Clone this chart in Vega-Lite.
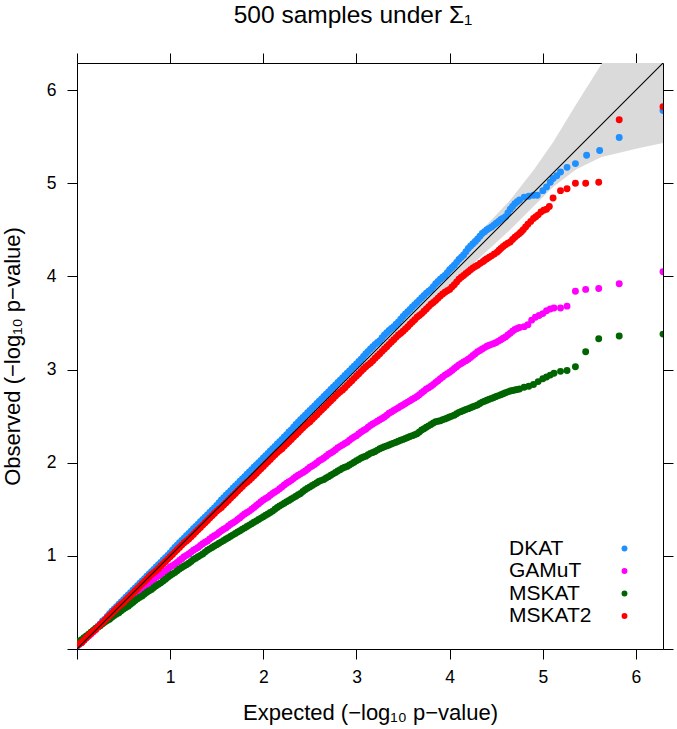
{
"$schema":"https://vega.github.io/schema/vega-lite/v6.json",
"width":586,"height":586,
"autosize":{"type":"none"},
"padding":{"left":77,"top":63,"right":14,"bottom":80},
"background":"white",
"title":{"text":"500 samples under Σ₁","font":"Liberation Sans","fontSize":24.5,"fontWeight":"normal","color":"black","anchor":"middle","dx":-17,"baseline":"alphabetic","offset":5},
"config":{
 "view":{"stroke":"black","strokeWidth":1},
 "axis":{"domain":false,"grid":false,"tickSize":10,"tickColor":"black","tickWidth":1,"labelFont":"Liberation Sans","labelFontSize":17.5,"labelColor":"black","titleFont":"Liberation Sans","titleFontSize":22,"titleFontWeight":"normal","titleColor":"black"},
 "legend":{"orient":"none","legendX":424,"legendY":475,"symbolOffset":113,"labelOffset":-126,"labelFont":"Liberation Sans","labelFontSize":21,"labelColor":"black","symbolSize":35,"symbolType":"circle","symbolOpacity":1,"rowPadding":0.5,"padding":0,"labelLimit":300}
},
"datasets":{
"band":[
{"x":0,"lo":-0.01,"hi":0.01},{"x":1,"lo":0.98,"hi":1.02},{"x":2,"lo":1.96,"hi":2.04},{"x":3,"lo":2.94,"hi":3.07},{"x":3.5,"lo":3.42,"hi":3.6},{"x":4,"lo":3.9,"hi":4.12},{"x":4.3,"lo":4.18,"hi":4.45},{"x":4.65,"lo":4.5,"hi":4.82},{"x":4.9,"lo":4.75,"hi":5.14},{"x":5.11,"lo":4.96,"hi":5.44},{"x":5.36,"lo":5.15,"hi":5.85},{"x":5.63,"lo":5.28,"hi":6.28},{"x":5.8,"lo":5.32,"hi":6.6},{"x":6.0,"lo":5.37,"hi":7.0},{"x":6.29,"lo":5.43,"hi":7.6}
],
"diag":[{"x":0,"y":0,"x2":6.29,"y2":6.29}],
"pts":[
{"s":"DKAT","x":0,"y":0.03},{"s":"DKAT","x":0.05,"y":0.07},{"s":"DKAT","x":0.1,"y":0.12},{"s":"DKAT","x":0.15,"y":0.17},{"s":"DKAT","x":0.2,"y":0.22},{"s":"DKAT","x":0.25,"y":0.27},{"s":"DKAT","x":0.3,"y":0.32},{"s":"DKAT","x":0.35,"y":0.38},{"s":"DKAT","x":0.4,"y":0.43},{"s":"DKAT","x":0.45,"y":0.48},{"s":"DKAT","x":0.5,"y":0.53},{"s":"DKAT","x":0.55,"y":0.58},{"s":"DKAT","x":0.6,"y":0.63},{"s":"DKAT","x":0.65,"y":0.68},{"s":"DKAT","x":0.7,"y":0.73},{"s":"DKAT","x":0.75,"y":0.78},{"s":"DKAT","x":0.8,"y":0.83},{"s":"DKAT","x":0.85,"y":0.88},{"s":"DKAT","x":0.9,"y":0.93},{"s":"DKAT","x":0.95,"y":0.98},{"s":"DKAT","x":1.0,"y":1.03},{"s":"DKAT","x":1.05,"y":1.09},{"s":"DKAT","x":1.1,"y":1.14},{"s":"DKAT","x":1.15,"y":1.19},{"s":"DKAT","x":1.2,"y":1.24},{"s":"DKAT","x":1.25,"y":1.29},{"s":"DKAT","x":1.3,"y":1.34},{"s":"DKAT","x":1.35,"y":1.39},{"s":"DKAT","x":1.4,"y":1.44},{"s":"DKAT","x":1.45,"y":1.49},{"s":"DKAT","x":1.5,"y":1.54},{"s":"DKAT","x":1.55,"y":1.6},{"s":"DKAT","x":1.6,"y":1.65},{"s":"DKAT","x":1.65,"y":1.7},{"s":"DKAT","x":1.7,"y":1.75},{"s":"DKAT","x":1.75,"y":1.8},{"s":"DKAT","x":1.8,"y":1.85},{"s":"DKAT","x":1.85,"y":1.9},{"s":"DKAT","x":1.9,"y":1.95},{"s":"DKAT","x":1.95,"y":2.0},{"s":"DKAT","x":2.0,"y":2.05},{"s":"DKAT","x":2.05,"y":2.1},{"s":"DKAT","x":2.1,"y":2.15},{"s":"DKAT","x":2.15,"y":2.2},{"s":"DKAT","x":2.2,"y":2.25},{"s":"DKAT","x":2.25,"y":2.3},{"s":"DKAT","x":2.3,"y":2.35},{"s":"DKAT","x":2.35,"y":2.41},{"s":"DKAT","x":2.4,"y":2.46},{"s":"DKAT","x":2.45,"y":2.51},{"s":"DKAT","x":2.5,"y":2.56},{"s":"DKAT","x":2.55,"y":2.61},{"s":"DKAT","x":2.6,"y":2.66},{"s":"DKAT","x":2.65,"y":2.71},{"s":"DKAT","x":2.7,"y":2.76},{"s":"DKAT","x":2.75,"y":2.81},{"s":"DKAT","x":2.8,"y":2.86},{"s":"DKAT","x":2.85,"y":2.91},{"s":"DKAT","x":2.9,"y":2.96},{"s":"DKAT","x":2.95,"y":3.01},{"s":"DKAT","x":3.0,"y":3.06},{"s":"DKAT","x":3.05,"y":3.11},{"s":"DKAT","x":3.1,"y":3.17},{"s":"DKAT","x":3.15,"y":3.22},{"s":"DKAT","x":3.2,"y":3.27},{"s":"DKAT","x":3.25,"y":3.31},{"s":"DKAT","x":3.3,"y":3.37},{"s":"DKAT","x":3.35,"y":3.42},{"s":"DKAT","x":3.4,"y":3.46},{"s":"DKAT","x":3.45,"y":3.51},{"s":"DKAT","x":3.5,"y":3.57},{"s":"DKAT","x":3.55,"y":3.62},{"s":"DKAT","x":3.6,"y":3.67},{"s":"DKAT","x":3.65,"y":3.72},{"s":"DKAT","x":3.7,"y":3.77},{"s":"DKAT","x":3.75,"y":3.82},{"s":"DKAT","x":3.8,"y":3.86},{"s":"DKAT","x":3.85,"y":3.92},{"s":"DKAT","x":3.9,"y":3.97},{"s":"DKAT","x":3.95,"y":4.01},{"s":"DKAT","x":4.0,"y":4.07},{"s":"DKAT","x":4.05,"y":4.12},{"s":"DKAT","x":4.1,"y":4.18},{"s":"DKAT","x":4.15,"y":4.23},{"s":"DKAT","x":4.2,"y":4.3},{"s":"DKAT","x":4.25,"y":4.35},{"s":"DKAT","x":4.3,"y":4.4},{"s":"DKAT","x":4.35,"y":4.46},{"s":"DKAT","x":4.4,"y":4.5},{"s":"DKAT","x":4.45,"y":4.53},{"s":"DKAT","x":4.5,"y":4.57},{"s":"DKAT","x":4.55,"y":4.61},{"s":"DKAT","x":4.6,"y":4.64},{"s":"DKAT","x":4.65,"y":4.72},{"s":"DKAT","x":4.7,"y":4.78},{"s":"DKAT","x":4.75,"y":4.82},{"s":"DKAT","x":4.8,"y":4.85},{"s":"DKAT","x":4.85,"y":4.86},{"s":"DKAT","x":4.9,"y":4.87},{"s":"DKAT","x":4.94,"y":4.87},{"s":"DKAT","x":5.0,"y":4.92},{"s":"DKAT","x":5.04,"y":4.96},{"s":"DKAT","x":5.08,"y":5.01},{"s":"DKAT","x":5.11,"y":5.05},{"s":"DKAT","x":5.15,"y":5.08},{"s":"DKAT","x":5.19,"y":5.12},{"s":"DKAT","x":5.26,"y":5.17},{"s":"DKAT","x":5.35,"y":5.21},{"s":"DKAT","x":5.47,"y":5.3},{"s":"DKAT","x":5.61,"y":5.35},{"s":"DKAT","x":5.82,"y":5.49},{"s":"DKAT","x":6.29,"y":5.78},
{"s":"DKAT","x":0.025,"y":0.05},{"s":"DKAT","x":0.075,"y":0.1},{"s":"DKAT","x":0.125,"y":0.145},{"s":"DKAT","x":0.175,"y":0.195},{"s":"DKAT","x":0.225,"y":0.245},{"s":"DKAT","x":0.275,"y":0.3},{"s":"DKAT","x":0.325,"y":0.35},{"s":"DKAT","x":0.375,"y":0.405},{"s":"DKAT","x":0.425,"y":0.455},{"s":"DKAT","x":0.475,"y":0.505},{"s":"DKAT","x":0.525,"y":0.555},{"s":"DKAT","x":0.575,"y":0.605},{"s":"DKAT","x":0.625,"y":0.655},{"s":"DKAT","x":0.675,"y":0.705},{"s":"DKAT","x":0.725,"y":0.755},{"s":"DKAT","x":0.775,"y":0.805},{"s":"DKAT","x":0.825,"y":0.855},{"s":"DKAT","x":0.875,"y":0.905},{"s":"DKAT","x":0.925,"y":0.955},{"s":"DKAT","x":0.975,"y":1.005},{"s":"DKAT","x":1.025,"y":1.06},{"s":"DKAT","x":1.075,"y":1.115},{"s":"DKAT","x":1.125,"y":1.165},{"s":"DKAT","x":1.175,"y":1.215},{"s":"DKAT","x":1.225,"y":1.265},{"s":"DKAT","x":1.275,"y":1.315},{"s":"DKAT","x":1.325,"y":1.365},{"s":"DKAT","x":1.375,"y":1.415},{"s":"DKAT","x":1.425,"y":1.465},{"s":"DKAT","x":1.475,"y":1.515},{"s":"DKAT","x":1.525,"y":1.57},{"s":"DKAT","x":1.575,"y":1.625},{"s":"DKAT","x":1.625,"y":1.675},{"s":"DKAT","x":1.675,"y":1.725},{"s":"DKAT","x":1.725,"y":1.775},{"s":"DKAT","x":1.775,"y":1.825},{"s":"DKAT","x":1.825,"y":1.875},{"s":"DKAT","x":1.875,"y":1.925},{"s":"DKAT","x":1.925,"y":1.975},{"s":"DKAT","x":1.975,"y":2.025},{"s":"DKAT","x":2.025,"y":2.075},{"s":"DKAT","x":2.075,"y":2.125},{"s":"DKAT","x":2.125,"y":2.175},{"s":"DKAT","x":2.175,"y":2.225},{"s":"DKAT","x":2.225,"y":2.275},{"s":"DKAT","x":2.275,"y":2.33},{"s":"DKAT","x":2.325,"y":2.38},{"s":"DKAT","x":2.375,"y":2.435},{"s":"DKAT","x":2.425,"y":2.485},{"s":"DKAT","x":2.475,"y":2.535},{"s":"DKAT","x":2.525,"y":2.585},{"s":"DKAT","x":2.575,"y":2.635},{"s":"DKAT","x":2.625,"y":2.685},{"s":"DKAT","x":2.675,"y":2.735},{"s":"DKAT","x":2.725,"y":2.785},{"s":"DKAT","x":2.775,"y":2.835},{"s":"DKAT","x":2.825,"y":2.885},{"s":"DKAT","x":2.875,"y":2.935},{"s":"DKAT","x":2.925,"y":2.985},{"s":"DKAT","x":2.975,"y":3.035},{"s":"DKAT","x":3.025,"y":3.085},{"s":"DKAT","x":3.075,"y":3.14},{"s":"DKAT","x":3.125,"y":3.195},{"s":"DKAT","x":3.175,"y":3.245},{"s":"DKAT","x":3.225,"y":3.29},{"s":"DKAT","x":3.275,"y":3.34},{"s":"DKAT","x":3.325,"y":3.395},{"s":"DKAT","x":3.375,"y":3.44},{"s":"DKAT","x":3.425,"y":3.485},{"s":"DKAT","x":3.475,"y":3.54},{"s":"DKAT","x":3.525,"y":3.595},{"s":"DKAT","x":3.575,"y":3.645},{"s":"DKAT","x":3.625,"y":3.695},{"s":"DKAT","x":3.675,"y":3.745},{"s":"DKAT","x":3.725,"y":3.795},{"s":"DKAT","x":3.775,"y":3.84},{"s":"DKAT","x":3.825,"y":3.89},{"s":"DKAT","x":3.875,"y":3.945},{"s":"DKAT","x":3.925,"y":3.99},{"s":"DKAT","x":3.975,"y":4.04},{"s":"DKAT","x":4.025,"y":4.095},{"s":"DKAT","x":4.075,"y":4.15},{"s":"DKAT","x":4.125,"y":4.205},{"s":"DKAT","x":4.175,"y":4.265},{"s":"DKAT","x":4.225,"y":4.325},{"s":"DKAT","x":4.275,"y":4.375},{"s":"DKAT","x":4.325,"y":4.43},{"s":"DKAT","x":4.375,"y":4.48},{"s":"DKAT","x":4.425,"y":4.515},{"s":"DKAT","x":4.475,"y":4.55},{"s":"DKAT","x":4.525,"y":4.59},{"s":"DKAT","x":4.575,"y":4.625},{"s":"DKAT","x":4.625,"y":4.68},{"s":"DKAT","x":4.675,"y":4.75},{"s":"DKAT","x":4.725,"y":4.8},
{"s":"GAMuT","x":0,"y":0.04},{"s":"GAMuT","x":0.05,"y":0.07},{"s":"GAMuT","x":0.1,"y":0.12},{"s":"GAMuT","x":0.15,"y":0.16},{"s":"GAMuT","x":0.2,"y":0.21},{"s":"GAMuT","x":0.25,"y":0.26},{"s":"GAMuT","x":0.3,"y":0.3},{"s":"GAMuT","x":0.35,"y":0.35},{"s":"GAMuT","x":0.4,"y":0.39},{"s":"GAMuT","x":0.45,"y":0.44},{"s":"GAMuT","x":0.5,"y":0.48},{"s":"GAMuT","x":0.55,"y":0.52},{"s":"GAMuT","x":0.6,"y":0.57},{"s":"GAMuT","x":0.65,"y":0.61},{"s":"GAMuT","x":0.7,"y":0.65},{"s":"GAMuT","x":0.75,"y":0.69},{"s":"GAMuT","x":0.8,"y":0.73},{"s":"GAMuT","x":0.85,"y":0.77},{"s":"GAMuT","x":0.9,"y":0.8},{"s":"GAMuT","x":0.95,"y":0.84},{"s":"GAMuT","x":1.0,"y":0.88},{"s":"GAMuT","x":1.05,"y":0.91},{"s":"GAMuT","x":1.1,"y":0.95},{"s":"GAMuT","x":1.15,"y":0.99},{"s":"GAMuT","x":1.2,"y":1.02},{"s":"GAMuT","x":1.25,"y":1.06},{"s":"GAMuT","x":1.3,"y":1.09},{"s":"GAMuT","x":1.35,"y":1.13},{"s":"GAMuT","x":1.4,"y":1.16},{"s":"GAMuT","x":1.45,"y":1.2},{"s":"GAMuT","x":1.5,"y":1.23},{"s":"GAMuT","x":1.55,"y":1.27},{"s":"GAMuT","x":1.6,"y":1.3},{"s":"GAMuT","x":1.65,"y":1.34},{"s":"GAMuT","x":1.7,"y":1.37},{"s":"GAMuT","x":1.75,"y":1.41},{"s":"GAMuT","x":1.8,"y":1.45},{"s":"GAMuT","x":1.85,"y":1.48},{"s":"GAMuT","x":1.9,"y":1.52},{"s":"GAMuT","x":1.95,"y":1.56},{"s":"GAMuT","x":2.0,"y":1.6},{"s":"GAMuT","x":2.05,"y":1.63},{"s":"GAMuT","x":2.1,"y":1.67},{"s":"GAMuT","x":2.15,"y":1.7},{"s":"GAMuT","x":2.2,"y":1.74},{"s":"GAMuT","x":2.25,"y":1.78},{"s":"GAMuT","x":2.3,"y":1.81},{"s":"GAMuT","x":2.35,"y":1.85},{"s":"GAMuT","x":2.4,"y":1.88},{"s":"GAMuT","x":2.45,"y":1.91},{"s":"GAMuT","x":2.5,"y":1.95},{"s":"GAMuT","x":2.55,"y":1.98},{"s":"GAMuT","x":2.6,"y":2.02},{"s":"GAMuT","x":2.65,"y":2.05},{"s":"GAMuT","x":2.7,"y":2.09},{"s":"GAMuT","x":2.75,"y":2.12},{"s":"GAMuT","x":2.8,"y":2.16},{"s":"GAMuT","x":2.85,"y":2.19},{"s":"GAMuT","x":2.9,"y":2.22},{"s":"GAMuT","x":2.95,"y":2.26},{"s":"GAMuT","x":3.0,"y":2.29},{"s":"GAMuT","x":3.05,"y":2.33},{"s":"GAMuT","x":3.1,"y":2.36},{"s":"GAMuT","x":3.15,"y":2.4},{"s":"GAMuT","x":3.2,"y":2.43},{"s":"GAMuT","x":3.25,"y":2.46},{"s":"GAMuT","x":3.3,"y":2.49},{"s":"GAMuT","x":3.35,"y":2.53},{"s":"GAMuT","x":3.4,"y":2.56},{"s":"GAMuT","x":3.45,"y":2.59},{"s":"GAMuT","x":3.5,"y":2.62},{"s":"GAMuT","x":3.55,"y":2.65},{"s":"GAMuT","x":3.6,"y":2.68},{"s":"GAMuT","x":3.65,"y":2.71},{"s":"GAMuT","x":3.7,"y":2.75},{"s":"GAMuT","x":3.75,"y":2.79},{"s":"GAMuT","x":3.8,"y":2.82},{"s":"GAMuT","x":3.85,"y":2.86},{"s":"GAMuT","x":3.9,"y":2.9},{"s":"GAMuT","x":3.95,"y":2.94},{"s":"GAMuT","x":4.0,"y":2.97},{"s":"GAMuT","x":4.05,"y":3.01},{"s":"GAMuT","x":4.1,"y":3.05},{"s":"GAMuT","x":4.15,"y":3.08},{"s":"GAMuT","x":4.2,"y":3.11},{"s":"GAMuT","x":4.25,"y":3.15},{"s":"GAMuT","x":4.3,"y":3.19},{"s":"GAMuT","x":4.35,"y":3.22},{"s":"GAMuT","x":4.4,"y":3.25},{"s":"GAMuT","x":4.45,"y":3.27},{"s":"GAMuT","x":4.5,"y":3.29},{"s":"GAMuT","x":4.55,"y":3.32},{"s":"GAMuT","x":4.6,"y":3.35},{"s":"GAMuT","x":4.65,"y":3.39},{"s":"GAMuT","x":4.7,"y":3.43},{"s":"GAMuT","x":4.75,"y":3.45},{"s":"GAMuT","x":4.8,"y":3.46},{"s":"GAMuT","x":4.84,"y":3.48},{"s":"GAMuT","x":4.88,"y":3.53},{"s":"GAMuT","x":4.92,"y":3.56},{"s":"GAMuT","x":4.96,"y":3.58},{"s":"GAMuT","x":5.0,"y":3.6},{"s":"GAMuT","x":5.04,"y":3.63},{"s":"GAMuT","x":5.08,"y":3.65},{"s":"GAMuT","x":5.12,"y":3.66},{"s":"GAMuT","x":5.19,"y":3.66},{"s":"GAMuT","x":5.26,"y":3.68},{"s":"GAMuT","x":5.35,"y":3.84},{"s":"GAMuT","x":5.46,"y":3.86},{"s":"GAMuT","x":5.6,"y":3.87},{"s":"GAMuT","x":5.82,"y":3.92},{"s":"GAMuT","x":6.29,"y":4.05},
{"s":"GAMuT","x":0.025,"y":0.055},{"s":"GAMuT","x":0.075,"y":0.095},{"s":"GAMuT","x":0.125,"y":0.14},{"s":"GAMuT","x":0.175,"y":0.185},{"s":"GAMuT","x":0.225,"y":0.235},{"s":"GAMuT","x":0.275,"y":0.28},{"s":"GAMuT","x":0.325,"y":0.325},{"s":"GAMuT","x":0.375,"y":0.37},{"s":"GAMuT","x":0.425,"y":0.415},{"s":"GAMuT","x":0.475,"y":0.46},{"s":"GAMuT","x":0.525,"y":0.5},{"s":"GAMuT","x":0.575,"y":0.545},{"s":"GAMuT","x":0.625,"y":0.59},{"s":"GAMuT","x":0.675,"y":0.63},{"s":"GAMuT","x":0.725,"y":0.67},{"s":"GAMuT","x":0.775,"y":0.71},{"s":"GAMuT","x":0.825,"y":0.75},{"s":"GAMuT","x":0.875,"y":0.785},{"s":"GAMuT","x":0.925,"y":0.82},{"s":"GAMuT","x":0.975,"y":0.86},{"s":"GAMuT","x":1.025,"y":0.895},{"s":"GAMuT","x":1.075,"y":0.93},{"s":"GAMuT","x":1.125,"y":0.97},{"s":"GAMuT","x":1.175,"y":1.005},{"s":"GAMuT","x":1.225,"y":1.04},{"s":"GAMuT","x":1.275,"y":1.075},{"s":"GAMuT","x":1.325,"y":1.11},{"s":"GAMuT","x":1.375,"y":1.145},{"s":"GAMuT","x":1.425,"y":1.18},{"s":"GAMuT","x":1.475,"y":1.215},{"s":"GAMuT","x":1.525,"y":1.25},{"s":"GAMuT","x":1.575,"y":1.285},{"s":"GAMuT","x":1.625,"y":1.32},{"s":"GAMuT","x":1.675,"y":1.355},{"s":"GAMuT","x":1.725,"y":1.39},{"s":"GAMuT","x":1.775,"y":1.43},{"s":"GAMuT","x":1.825,"y":1.465},{"s":"GAMuT","x":1.875,"y":1.5},{"s":"GAMuT","x":1.925,"y":1.54},{"s":"GAMuT","x":1.975,"y":1.58},{"s":"GAMuT","x":2.025,"y":1.615},{"s":"GAMuT","x":2.075,"y":1.65},{"s":"GAMuT","x":2.125,"y":1.685},{"s":"GAMuT","x":2.175,"y":1.72},{"s":"GAMuT","x":2.225,"y":1.76},{"s":"GAMuT","x":2.275,"y":1.795},{"s":"GAMuT","x":2.325,"y":1.83},{"s":"GAMuT","x":2.375,"y":1.865},{"s":"GAMuT","x":2.425,"y":1.895},{"s":"GAMuT","x":2.475,"y":1.93},{"s":"GAMuT","x":2.525,"y":1.965},{"s":"GAMuT","x":2.575,"y":2.0},{"s":"GAMuT","x":2.625,"y":2.035},{"s":"GAMuT","x":2.675,"y":2.07},{"s":"GAMuT","x":2.725,"y":2.105},{"s":"GAMuT","x":2.775,"y":2.14},{"s":"GAMuT","x":2.825,"y":2.175},{"s":"GAMuT","x":2.875,"y":2.205},{"s":"GAMuT","x":2.925,"y":2.24},{"s":"GAMuT","x":2.975,"y":2.275},{"s":"GAMuT","x":3.025,"y":2.31},{"s":"GAMuT","x":3.075,"y":2.345},{"s":"GAMuT","x":3.125,"y":2.38},{"s":"GAMuT","x":3.175,"y":2.415},{"s":"GAMuT","x":3.225,"y":2.445},{"s":"GAMuT","x":3.275,"y":2.475},{"s":"GAMuT","x":3.325,"y":2.51},{"s":"GAMuT","x":3.375,"y":2.545},{"s":"GAMuT","x":3.425,"y":2.575},{"s":"GAMuT","x":3.475,"y":2.605},{"s":"GAMuT","x":3.525,"y":2.635},{"s":"GAMuT","x":3.575,"y":2.665},{"s":"GAMuT","x":3.625,"y":2.695},{"s":"GAMuT","x":3.675,"y":2.73},{"s":"GAMuT","x":3.725,"y":2.77},{"s":"GAMuT","x":3.775,"y":2.805},{"s":"GAMuT","x":3.825,"y":2.84},{"s":"GAMuT","x":3.875,"y":2.88},{"s":"GAMuT","x":3.925,"y":2.92},{"s":"GAMuT","x":3.975,"y":2.955},{"s":"GAMuT","x":4.025,"y":2.99},{"s":"GAMuT","x":4.075,"y":3.03},{"s":"GAMuT","x":4.125,"y":3.065},{"s":"GAMuT","x":4.175,"y":3.095},{"s":"GAMuT","x":4.225,"y":3.13},{"s":"GAMuT","x":4.275,"y":3.17},{"s":"GAMuT","x":4.325,"y":3.205},{"s":"GAMuT","x":4.375,"y":3.235},{"s":"GAMuT","x":4.425,"y":3.26},{"s":"GAMuT","x":4.475,"y":3.28},{"s":"GAMuT","x":4.525,"y":3.305},{"s":"GAMuT","x":4.575,"y":3.335},{"s":"GAMuT","x":4.625,"y":3.37},{"s":"GAMuT","x":4.675,"y":3.41},{"s":"GAMuT","x":4.725,"y":3.44},
{"s":"MSKAT","x":0,"y":0.07},{"s":"MSKAT","x":0.05,"y":0.1},{"s":"MSKAT","x":0.1,"y":0.14},{"s":"MSKAT","x":0.15,"y":0.18},{"s":"MSKAT","x":0.2,"y":0.22},{"s":"MSKAT","x":0.25,"y":0.25},{"s":"MSKAT","x":0.3,"y":0.29},{"s":"MSKAT","x":0.35,"y":0.32},{"s":"MSKAT","x":0.4,"y":0.36},{"s":"MSKAT","x":0.45,"y":0.39},{"s":"MSKAT","x":0.5,"y":0.43},{"s":"MSKAT","x":0.55,"y":0.46},{"s":"MSKAT","x":0.6,"y":0.5},{"s":"MSKAT","x":0.65,"y":0.54},{"s":"MSKAT","x":0.7,"y":0.57},{"s":"MSKAT","x":0.75,"y":0.61},{"s":"MSKAT","x":0.8,"y":0.64},{"s":"MSKAT","x":0.85,"y":0.68},{"s":"MSKAT","x":0.9,"y":0.71},{"s":"MSKAT","x":0.95,"y":0.75},{"s":"MSKAT","x":1.0,"y":0.79},{"s":"MSKAT","x":1.05,"y":0.82},{"s":"MSKAT","x":1.1,"y":0.86},{"s":"MSKAT","x":1.15,"y":0.89},{"s":"MSKAT","x":1.2,"y":0.92},{"s":"MSKAT","x":1.25,"y":0.96},{"s":"MSKAT","x":1.3,"y":0.99},{"s":"MSKAT","x":1.35,"y":1.02},{"s":"MSKAT","x":1.4,"y":1.06},{"s":"MSKAT","x":1.45,"y":1.09},{"s":"MSKAT","x":1.5,"y":1.12},{"s":"MSKAT","x":1.55,"y":1.15},{"s":"MSKAT","x":1.6,"y":1.18},{"s":"MSKAT","x":1.65,"y":1.21},{"s":"MSKAT","x":1.7,"y":1.24},{"s":"MSKAT","x":1.75,"y":1.27},{"s":"MSKAT","x":1.8,"y":1.3},{"s":"MSKAT","x":1.85,"y":1.33},{"s":"MSKAT","x":1.9,"y":1.36},{"s":"MSKAT","x":1.95,"y":1.39},{"s":"MSKAT","x":2.0,"y":1.42},{"s":"MSKAT","x":2.05,"y":1.45},{"s":"MSKAT","x":2.1,"y":1.48},{"s":"MSKAT","x":2.15,"y":1.52},{"s":"MSKAT","x":2.2,"y":1.55},{"s":"MSKAT","x":2.25,"y":1.58},{"s":"MSKAT","x":2.3,"y":1.61},{"s":"MSKAT","x":2.35,"y":1.64},{"s":"MSKAT","x":2.4,"y":1.67},{"s":"MSKAT","x":2.45,"y":1.71},{"s":"MSKAT","x":2.5,"y":1.74},{"s":"MSKAT","x":2.55,"y":1.77},{"s":"MSKAT","x":2.6,"y":1.8},{"s":"MSKAT","x":2.65,"y":1.82},{"s":"MSKAT","x":2.7,"y":1.85},{"s":"MSKAT","x":2.75,"y":1.88},{"s":"MSKAT","x":2.8,"y":1.91},{"s":"MSKAT","x":2.85,"y":1.94},{"s":"MSKAT","x":2.9,"y":1.96},{"s":"MSKAT","x":2.95,"y":1.99},{"s":"MSKAT","x":3.0,"y":2.02},{"s":"MSKAT","x":3.05,"y":2.05},{"s":"MSKAT","x":3.1,"y":2.07},{"s":"MSKAT","x":3.15,"y":2.1},{"s":"MSKAT","x":3.2,"y":2.12},{"s":"MSKAT","x":3.25,"y":2.15},{"s":"MSKAT","x":3.3,"y":2.17},{"s":"MSKAT","x":3.35,"y":2.19},{"s":"MSKAT","x":3.4,"y":2.21},{"s":"MSKAT","x":3.45,"y":2.23},{"s":"MSKAT","x":3.5,"y":2.25},{"s":"MSKAT","x":3.55,"y":2.27},{"s":"MSKAT","x":3.6,"y":2.29},{"s":"MSKAT","x":3.65,"y":2.31},{"s":"MSKAT","x":3.7,"y":2.35},{"s":"MSKAT","x":3.75,"y":2.38},{"s":"MSKAT","x":3.8,"y":2.41},{"s":"MSKAT","x":3.85,"y":2.44},{"s":"MSKAT","x":3.9,"y":2.45},{"s":"MSKAT","x":3.95,"y":2.47},{"s":"MSKAT","x":4.0,"y":2.49},{"s":"MSKAT","x":4.05,"y":2.51},{"s":"MSKAT","x":4.1,"y":2.54},{"s":"MSKAT","x":4.15,"y":2.56},{"s":"MSKAT","x":4.2,"y":2.58},{"s":"MSKAT","x":4.25,"y":2.6},{"s":"MSKAT","x":4.3,"y":2.62},{"s":"MSKAT","x":4.35,"y":2.65},{"s":"MSKAT","x":4.4,"y":2.67},{"s":"MSKAT","x":4.45,"y":2.69},{"s":"MSKAT","x":4.5,"y":2.71},{"s":"MSKAT","x":4.55,"y":2.73},{"s":"MSKAT","x":4.6,"y":2.75},{"s":"MSKAT","x":4.65,"y":2.77},{"s":"MSKAT","x":4.7,"y":2.78},{"s":"MSKAT","x":4.75,"y":2.79},{"s":"MSKAT","x":4.8,"y":2.81},{"s":"MSKAT","x":4.85,"y":2.82},{"s":"MSKAT","x":4.9,"y":2.84},{"s":"MSKAT","x":4.95,"y":2.87},{"s":"MSKAT","x":5.0,"y":2.9},{"s":"MSKAT","x":5.04,"y":2.92},{"s":"MSKAT","x":5.08,"y":2.94},{"s":"MSKAT","x":5.12,"y":2.96},{"s":"MSKAT","x":5.19,"y":2.98},{"s":"MSKAT","x":5.26,"y":2.99},{"s":"MSKAT","x":5.35,"y":3.03},{"s":"MSKAT","x":5.46,"y":3.19},{"s":"MSKAT","x":5.6,"y":3.33},{"s":"MSKAT","x":5.82,"y":3.36},{"s":"MSKAT","x":6.29,"y":3.38},
{"s":"MSKAT","x":0.025,"y":0.085},{"s":"MSKAT","x":0.075,"y":0.12},{"s":"MSKAT","x":0.125,"y":0.16},{"s":"MSKAT","x":0.175,"y":0.2},{"s":"MSKAT","x":0.225,"y":0.235},{"s":"MSKAT","x":0.275,"y":0.27},{"s":"MSKAT","x":0.325,"y":0.305},{"s":"MSKAT","x":0.375,"y":0.34},{"s":"MSKAT","x":0.425,"y":0.375},{"s":"MSKAT","x":0.475,"y":0.41},{"s":"MSKAT","x":0.525,"y":0.445},{"s":"MSKAT","x":0.575,"y":0.48},{"s":"MSKAT","x":0.625,"y":0.52},{"s":"MSKAT","x":0.675,"y":0.555},{"s":"MSKAT","x":0.725,"y":0.59},{"s":"MSKAT","x":0.775,"y":0.625},{"s":"MSKAT","x":0.825,"y":0.66},{"s":"MSKAT","x":0.875,"y":0.695},{"s":"MSKAT","x":0.925,"y":0.73},{"s":"MSKAT","x":0.975,"y":0.77},{"s":"MSKAT","x":1.025,"y":0.805},{"s":"MSKAT","x":1.075,"y":0.84},{"s":"MSKAT","x":1.125,"y":0.875},{"s":"MSKAT","x":1.175,"y":0.905},{"s":"MSKAT","x":1.225,"y":0.94},{"s":"MSKAT","x":1.275,"y":0.975},{"s":"MSKAT","x":1.325,"y":1.005},{"s":"MSKAT","x":1.375,"y":1.04},{"s":"MSKAT","x":1.425,"y":1.075},{"s":"MSKAT","x":1.475,"y":1.105},{"s":"MSKAT","x":1.525,"y":1.135},{"s":"MSKAT","x":1.575,"y":1.165},{"s":"MSKAT","x":1.625,"y":1.195},{"s":"MSKAT","x":1.675,"y":1.225},{"s":"MSKAT","x":1.725,"y":1.255},{"s":"MSKAT","x":1.775,"y":1.285},{"s":"MSKAT","x":1.825,"y":1.315},{"s":"MSKAT","x":1.875,"y":1.345},{"s":"MSKAT","x":1.925,"y":1.375},{"s":"MSKAT","x":1.975,"y":1.405},{"s":"MSKAT","x":2.025,"y":1.435},{"s":"MSKAT","x":2.075,"y":1.465},{"s":"MSKAT","x":2.125,"y":1.5},{"s":"MSKAT","x":2.175,"y":1.535},{"s":"MSKAT","x":2.225,"y":1.565},{"s":"MSKAT","x":2.275,"y":1.595},{"s":"MSKAT","x":2.325,"y":1.625},{"s":"MSKAT","x":2.375,"y":1.655},{"s":"MSKAT","x":2.425,"y":1.69},{"s":"MSKAT","x":2.475,"y":1.725},{"s":"MSKAT","x":2.525,"y":1.755},{"s":"MSKAT","x":2.575,"y":1.785},{"s":"MSKAT","x":2.625,"y":1.81},{"s":"MSKAT","x":2.675,"y":1.835},{"s":"MSKAT","x":2.725,"y":1.865},{"s":"MSKAT","x":2.775,"y":1.895},{"s":"MSKAT","x":2.825,"y":1.925},{"s":"MSKAT","x":2.875,"y":1.95},{"s":"MSKAT","x":2.925,"y":1.975},{"s":"MSKAT","x":2.975,"y":2.005},{"s":"MSKAT","x":3.025,"y":2.035},{"s":"MSKAT","x":3.075,"y":2.06},{"s":"MSKAT","x":3.125,"y":2.085},{"s":"MSKAT","x":3.175,"y":2.11},{"s":"MSKAT","x":3.225,"y":2.135},{"s":"MSKAT","x":3.275,"y":2.16},{"s":"MSKAT","x":3.325,"y":2.18},{"s":"MSKAT","x":3.375,"y":2.2},{"s":"MSKAT","x":3.425,"y":2.22},{"s":"MSKAT","x":3.475,"y":2.24},{"s":"MSKAT","x":3.525,"y":2.26},{"s":"MSKAT","x":3.575,"y":2.28},{"s":"MSKAT","x":3.625,"y":2.3},{"s":"MSKAT","x":3.675,"y":2.33},{"s":"MSKAT","x":3.725,"y":2.365},{"s":"MSKAT","x":3.775,"y":2.395},{"s":"MSKAT","x":3.825,"y":2.425},{"s":"MSKAT","x":3.875,"y":2.445},{"s":"MSKAT","x":3.925,"y":2.46},{"s":"MSKAT","x":3.975,"y":2.48},{"s":"MSKAT","x":4.025,"y":2.5},{"s":"MSKAT","x":4.075,"y":2.525},{"s":"MSKAT","x":4.125,"y":2.55},{"s":"MSKAT","x":4.175,"y":2.57},{"s":"MSKAT","x":4.225,"y":2.59},{"s":"MSKAT","x":4.275,"y":2.61},{"s":"MSKAT","x":4.325,"y":2.635},{"s":"MSKAT","x":4.375,"y":2.66},{"s":"MSKAT","x":4.425,"y":2.68},{"s":"MSKAT","x":4.475,"y":2.7},{"s":"MSKAT","x":4.525,"y":2.72},{"s":"MSKAT","x":4.575,"y":2.74},{"s":"MSKAT","x":4.625,"y":2.76},{"s":"MSKAT","x":4.675,"y":2.775},{"s":"MSKAT","x":4.725,"y":2.785},
{"s":"MSKAT2","x":0,"y":0.04},{"s":"MSKAT2","x":0.05,"y":0.07},{"s":"MSKAT2","x":0.1,"y":0.12},{"s":"MSKAT2","x":0.15,"y":0.17},{"s":"MSKAT2","x":0.2,"y":0.21},{"s":"MSKAT2","x":0.25,"y":0.26},{"s":"MSKAT2","x":0.3,"y":0.31},{"s":"MSKAT2","x":0.35,"y":0.36},{"s":"MSKAT2","x":0.4,"y":0.41},{"s":"MSKAT2","x":0.45,"y":0.46},{"s":"MSKAT2","x":0.5,"y":0.5},{"s":"MSKAT2","x":0.55,"y":0.55},{"s":"MSKAT2","x":0.6,"y":0.6},{"s":"MSKAT2","x":0.65,"y":0.65},{"s":"MSKAT2","x":0.7,"y":0.7},{"s":"MSKAT2","x":0.75,"y":0.75},{"s":"MSKAT2","x":0.8,"y":0.8},{"s":"MSKAT2","x":0.85,"y":0.84},{"s":"MSKAT2","x":0.9,"y":0.89},{"s":"MSKAT2","x":0.95,"y":0.94},{"s":"MSKAT2","x":1.0,"y":0.99},{"s":"MSKAT2","x":1.05,"y":1.04},{"s":"MSKAT2","x":1.1,"y":1.09},{"s":"MSKAT2","x":1.15,"y":1.14},{"s":"MSKAT2","x":1.2,"y":1.18},{"s":"MSKAT2","x":1.25,"y":1.23},{"s":"MSKAT2","x":1.3,"y":1.28},{"s":"MSKAT2","x":1.35,"y":1.33},{"s":"MSKAT2","x":1.4,"y":1.38},{"s":"MSKAT2","x":1.45,"y":1.43},{"s":"MSKAT2","x":1.5,"y":1.48},{"s":"MSKAT2","x":1.55,"y":1.52},{"s":"MSKAT2","x":1.6,"y":1.57},{"s":"MSKAT2","x":1.65,"y":1.62},{"s":"MSKAT2","x":1.7,"y":1.67},{"s":"MSKAT2","x":1.75,"y":1.72},{"s":"MSKAT2","x":1.8,"y":1.77},{"s":"MSKAT2","x":1.85,"y":1.81},{"s":"MSKAT2","x":1.9,"y":1.86},{"s":"MSKAT2","x":1.95,"y":1.91},{"s":"MSKAT2","x":2.0,"y":1.96},{"s":"MSKAT2","x":2.05,"y":2.01},{"s":"MSKAT2","x":2.1,"y":2.06},{"s":"MSKAT2","x":2.15,"y":2.11},{"s":"MSKAT2","x":2.2,"y":2.15},{"s":"MSKAT2","x":2.25,"y":2.2},{"s":"MSKAT2","x":2.3,"y":2.25},{"s":"MSKAT2","x":2.35,"y":2.3},{"s":"MSKAT2","x":2.4,"y":2.35},{"s":"MSKAT2","x":2.45,"y":2.4},{"s":"MSKAT2","x":2.5,"y":2.44},{"s":"MSKAT2","x":2.55,"y":2.49},{"s":"MSKAT2","x":2.6,"y":2.54},{"s":"MSKAT2","x":2.65,"y":2.59},{"s":"MSKAT2","x":2.7,"y":2.64},{"s":"MSKAT2","x":2.75,"y":2.69},{"s":"MSKAT2","x":2.8,"y":2.74},{"s":"MSKAT2","x":2.85,"y":2.78},{"s":"MSKAT2","x":2.9,"y":2.83},{"s":"MSKAT2","x":2.95,"y":2.88},{"s":"MSKAT2","x":3.0,"y":2.93},{"s":"MSKAT2","x":3.05,"y":2.98},{"s":"MSKAT2","x":3.1,"y":3.03},{"s":"MSKAT2","x":3.15,"y":3.07},{"s":"MSKAT2","x":3.2,"y":3.12},{"s":"MSKAT2","x":3.25,"y":3.17},{"s":"MSKAT2","x":3.3,"y":3.22},{"s":"MSKAT2","x":3.35,"y":3.27},{"s":"MSKAT2","x":3.4,"y":3.32},{"s":"MSKAT2","x":3.45,"y":3.37},{"s":"MSKAT2","x":3.5,"y":3.41},{"s":"MSKAT2","x":3.55,"y":3.46},{"s":"MSKAT2","x":3.6,"y":3.51},{"s":"MSKAT2","x":3.65,"y":3.56},{"s":"MSKAT2","x":3.7,"y":3.6},{"s":"MSKAT2","x":3.75,"y":3.65},{"s":"MSKAT2","x":3.8,"y":3.7},{"s":"MSKAT2","x":3.85,"y":3.74},{"s":"MSKAT2","x":3.9,"y":3.79},{"s":"MSKAT2","x":3.95,"y":3.83},{"s":"MSKAT2","x":4.0,"y":3.86},{"s":"MSKAT2","x":4.05,"y":3.91},{"s":"MSKAT2","x":4.1,"y":3.97},{"s":"MSKAT2","x":4.15,"y":4.01},{"s":"MSKAT2","x":4.2,"y":4.05},{"s":"MSKAT2","x":4.25,"y":4.09},{"s":"MSKAT2","x":4.3,"y":4.12},{"s":"MSKAT2","x":4.36,"y":4.16},{"s":"MSKAT2","x":4.4,"y":4.19},{"s":"MSKAT2","x":4.45,"y":4.22},{"s":"MSKAT2","x":4.51,"y":4.26},{"s":"MSKAT2","x":4.55,"y":4.3},{"s":"MSKAT2","x":4.6,"y":4.34},{"s":"MSKAT2","x":4.65,"y":4.37},{"s":"MSKAT2","x":4.7,"y":4.42},{"s":"MSKAT2","x":4.75,"y":4.46},{"s":"MSKAT2","x":4.79,"y":4.5},{"s":"MSKAT2","x":4.84,"y":4.56},{"s":"MSKAT2","x":4.9,"y":4.62},{"s":"MSKAT2","x":4.95,"y":4.66},{"s":"MSKAT2","x":5.01,"y":4.71},{"s":"MSKAT2","x":5.04,"y":4.72},{"s":"MSKAT2","x":5.07,"y":4.75},{"s":"MSKAT2","x":5.11,"y":4.84},{"s":"MSKAT2","x":5.19,"y":4.92},{"s":"MSKAT2","x":5.26,"y":4.94},{"s":"MSKAT2","x":5.35,"y":5.0},{"s":"MSKAT2","x":5.46,"y":5.0},{"s":"MSKAT2","x":5.6,"y":5.01},{"s":"MSKAT2","x":5.82,"y":5.68},{"s":"MSKAT2","x":6.29,"y":5.82},
{"s":"MSKAT2","x":0.025,"y":0.055},{"s":"MSKAT2","x":0.075,"y":0.095},{"s":"MSKAT2","x":0.125,"y":0.145},{"s":"MSKAT2","x":0.175,"y":0.19},{"s":"MSKAT2","x":0.225,"y":0.235},{"s":"MSKAT2","x":0.275,"y":0.285},{"s":"MSKAT2","x":0.325,"y":0.335},{"s":"MSKAT2","x":0.375,"y":0.385},{"s":"MSKAT2","x":0.425,"y":0.435},{"s":"MSKAT2","x":0.475,"y":0.48},{"s":"MSKAT2","x":0.525,"y":0.525},{"s":"MSKAT2","x":0.575,"y":0.575},{"s":"MSKAT2","x":0.625,"y":0.625},{"s":"MSKAT2","x":0.675,"y":0.675},{"s":"MSKAT2","x":0.725,"y":0.725},{"s":"MSKAT2","x":0.775,"y":0.775},{"s":"MSKAT2","x":0.825,"y":0.82},{"s":"MSKAT2","x":0.875,"y":0.865},{"s":"MSKAT2","x":0.925,"y":0.915},{"s":"MSKAT2","x":0.975,"y":0.965},{"s":"MSKAT2","x":1.025,"y":1.015},{"s":"MSKAT2","x":1.075,"y":1.065},{"s":"MSKAT2","x":1.125,"y":1.115},{"s":"MSKAT2","x":1.175,"y":1.16},{"s":"MSKAT2","x":1.225,"y":1.205},{"s":"MSKAT2","x":1.275,"y":1.255},{"s":"MSKAT2","x":1.325,"y":1.305},{"s":"MSKAT2","x":1.375,"y":1.355},{"s":"MSKAT2","x":1.425,"y":1.405},{"s":"MSKAT2","x":1.475,"y":1.455},{"s":"MSKAT2","x":1.525,"y":1.5},{"s":"MSKAT2","x":1.575,"y":1.545},{"s":"MSKAT2","x":1.625,"y":1.595},{"s":"MSKAT2","x":1.675,"y":1.645},{"s":"MSKAT2","x":1.725,"y":1.695},{"s":"MSKAT2","x":1.775,"y":1.745},{"s":"MSKAT2","x":1.825,"y":1.79},{"s":"MSKAT2","x":1.875,"y":1.835},{"s":"MSKAT2","x":1.925,"y":1.885},{"s":"MSKAT2","x":1.975,"y":1.935},{"s":"MSKAT2","x":2.025,"y":1.985},{"s":"MSKAT2","x":2.075,"y":2.035},{"s":"MSKAT2","x":2.125,"y":2.085},{"s":"MSKAT2","x":2.175,"y":2.13},{"s":"MSKAT2","x":2.225,"y":2.175},{"s":"MSKAT2","x":2.275,"y":2.225},{"s":"MSKAT2","x":2.325,"y":2.275},{"s":"MSKAT2","x":2.375,"y":2.325},{"s":"MSKAT2","x":2.425,"y":2.375},{"s":"MSKAT2","x":2.475,"y":2.42},{"s":"MSKAT2","x":2.525,"y":2.465},{"s":"MSKAT2","x":2.575,"y":2.515},{"s":"MSKAT2","x":2.625,"y":2.565},{"s":"MSKAT2","x":2.675,"y":2.615},{"s":"MSKAT2","x":2.725,"y":2.665},{"s":"MSKAT2","x":2.775,"y":2.715},{"s":"MSKAT2","x":2.825,"y":2.76},{"s":"MSKAT2","x":2.875,"y":2.805},{"s":"MSKAT2","x":2.925,"y":2.855},{"s":"MSKAT2","x":2.975,"y":2.905},{"s":"MSKAT2","x":3.025,"y":2.955},{"s":"MSKAT2","x":3.075,"y":3.005},{"s":"MSKAT2","x":3.125,"y":3.05},{"s":"MSKAT2","x":3.175,"y":3.095},{"s":"MSKAT2","x":3.225,"y":3.145},{"s":"MSKAT2","x":3.275,"y":3.195},{"s":"MSKAT2","x":3.325,"y":3.245},{"s":"MSKAT2","x":3.375,"y":3.295},{"s":"MSKAT2","x":3.425,"y":3.345},{"s":"MSKAT2","x":3.475,"y":3.39},{"s":"MSKAT2","x":3.525,"y":3.435},{"s":"MSKAT2","x":3.575,"y":3.485},{"s":"MSKAT2","x":3.625,"y":3.535},{"s":"MSKAT2","x":3.675,"y":3.58},{"s":"MSKAT2","x":3.725,"y":3.625},{"s":"MSKAT2","x":3.775,"y":3.675},{"s":"MSKAT2","x":3.825,"y":3.72},{"s":"MSKAT2","x":3.875,"y":3.765},{"s":"MSKAT2","x":3.925,"y":3.81},{"s":"MSKAT2","x":3.975,"y":3.845},{"s":"MSKAT2","x":4.025,"y":3.885},{"s":"MSKAT2","x":4.075,"y":3.94},{"s":"MSKAT2","x":4.125,"y":3.99},{"s":"MSKAT2","x":4.175,"y":4.03},{"s":"MSKAT2","x":4.225,"y":4.07},{"s":"MSKAT2","x":4.275,"y":4.105},{"s":"MSKAT2","x":4.33,"y":4.14},{"s":"MSKAT2","x":4.38,"y":4.175},{"s":"MSKAT2","x":4.425,"y":4.205},{"s":"MSKAT2","x":4.48,"y":4.24},{"s":"MSKAT2","x":4.53,"y":4.28},{"s":"MSKAT2","x":4.575,"y":4.32},{"s":"MSKAT2","x":4.625,"y":4.355},{"s":"MSKAT2","x":4.675,"y":4.395},{"s":"MSKAT2","x":4.725,"y":4.44},{"s":"MSKAT2","x":4.77,"y":4.48},{"s":"MSKAT2","x":4.815,"y":4.53},{"s":"MSKAT2","x":4.87,"y":4.59},{"s":"MSKAT2","x":4.925,"y":4.64},{"s":"MSKAT2","x":4.98,"y":4.69}
]
},
"layer":[
 {"data":{"name":"band"},"mark":{"type":"area","color":"#DADADA","clip":true},
  "encoding":{
   "x":{"field":"x","type":"quantitative","scale":{"domain":[0,6.29],"nice":false,"zero":false},"axis":{"orient":"bottom","values":[0,1,2,3,4,5,6],"labelExpr":"datum.value == 0 ? '' : datum.label","labelPadding":9,"title":"Expected (−log₁₀ p−value)","titlePadding":17}},
   "y":{"field":"lo","type":"quantitative","scale":{"domain":[0,6.29],"nice":false,"zero":false},"axis":{"orient":"left","values":[0,1,2,3,4,5,6],"labelExpr":"datum.value == 0 ? '' : datum.label","labelPadding":11,"title":"Observed (−log₁₀ p−value)","titlePadding":22}},
   "y2":{"field":"hi"}}},
 {"data":{"name":"pts"},"mark":{"type":"circle","size":48,"opacity":1,"clip":true},
  "encoding":{
   "x":{"field":"x","type":"quantitative","axis":null},
   "y":{"field":"y","type":"quantitative","axis":null},
   "color":{"field":"s","type":"nominal","scale":{"domain":["DKAT","GAMuT","MSKAT","MSKAT2"],"range":["#1E90FF","#FF00FF","#006400","#FF0000"]},"legend":{"title":null}}}},
 {"data":{"name":"diag"},"mark":{"type":"rule","color":"black","strokeWidth":1.1,"clip":true},
  "encoding":{
   "x":{"field":"x","type":"quantitative","axis":{"orient":"top","values":[0,1,2,3,4,5,6],"labels":false,"title":null}},
   "y":{"field":"y","type":"quantitative","axis":{"orient":"right","values":[0,1,2,3,4,5,6],"labels":false,"title":null}},
   "x2":{"field":"x2"},"y2":{"field":"y2"}}}
],
"resolve":{"axis":{"x":"independent","y":"independent"}}
}
